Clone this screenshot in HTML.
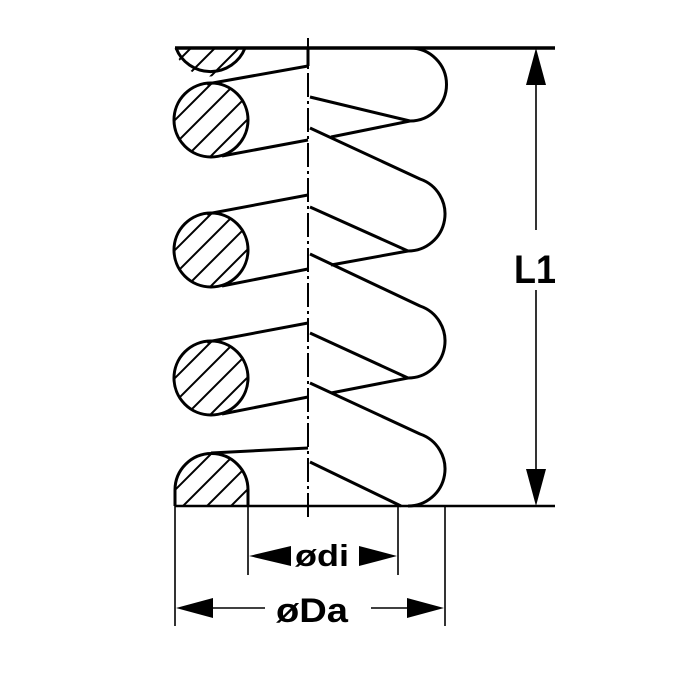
<!DOCTYPE html>
<html><head><meta charset="utf-8"><style>
html,body{margin:0;padding:0;background:#fff}
svg{display:block}
text{font-family:"Liberation Sans",Arial,sans-serif;fill:#000}
</style></head><body>
<svg width="700" height="700" viewBox="0 0 700 700" xmlns="http://www.w3.org/2000/svg">
<defs>
<clipPath id="c0"><path d="M174,48 L246,48 A37,37 0 0 1 174,48 Z"/></clipPath>
<clipPath id="c1"><circle cx="211" cy="120" r="37"/></clipPath>
<clipPath id="c2"><circle cx="211" cy="250" r="37"/></clipPath>
<clipPath id="c3"><circle cx="211" cy="378" r="37"/></clipPath>
<clipPath id="c4"><path d="M175,506 L175,490 A36.5,36.5 0 0 1 248,490 L248,506 Z"/></clipPath>
<g id="hatch" stroke="#000" stroke-width="2">
<line x1="-60" y1="60" x2="60" y2="-60" transform="translate(-30,0)"/>
<line x1="-60" y1="60" x2="60" y2="-60" transform="translate(-6,0)"/>
<line x1="-60" y1="60" x2="60" y2="-60" transform="translate(18,0)"/>
<line x1="-60" y1="60" x2="60" y2="-60" transform="translate(42,0)"/>
<line x1="-60" y1="60" x2="60" y2="-60" transform="translate(-54,0)"/>
</g>
</defs>

<g clip-path="url(#c0)"><use href="#hatch" x="205" y="40"/></g>
<g clip-path="url(#c1)"><use href="#hatch" x="205" y="120"/></g>
<g clip-path="url(#c2)"><use href="#hatch" x="205" y="250"/></g>
<g clip-path="url(#c3)"><use href="#hatch" x="205" y="378"/></g>
<g clip-path="url(#c4)"><use href="#hatch" x="205" y="490"/></g>

<g fill="none" stroke="#000" stroke-width="3" stroke-linejoin="round">
<line x1="175" y1="48" x2="555" y2="48" stroke-width="3.5"/>
<line x1="175" y1="506" x2="555" y2="506" stroke-width="2.5"/>
<path d="M176,48 A37,37 0 0 0 245,48"/>
<circle cx="211" cy="120" r="37"/>
<circle cx="211" cy="250" r="37"/>
<circle cx="211" cy="378" r="37"/>
<path d="M175,506 L175,490 A36.5,36.5 0 0 1 248,490 L248,506"/>
<line x1="207" y1="84" x2="308" y2="66"/>
<line x1="222" y1="156" x2="308" y2="140"/>
<line x1="207" y1="214" x2="308" y2="195"/>
<line x1="222" y1="286" x2="308" y2="269"/>
<line x1="207" y1="342" x2="308" y2="323"/>
<line x1="222" y1="414" x2="308" y2="397"/>
<line x1="211" y1="453" x2="308" y2="448"/>
<line x1="308" y1="48" x2="308" y2="66"/>
<path d="M410,48 A36.5,36.5 0 0 1 410,121"/>
<line x1="310" y1="97" x2="410" y2="121"/>
<line x1="410" y1="121" x2="331" y2="137"/>
<path d="M310,128 L420,179 A37,37 0 0 1 408,251"/>
<line x1="310" y1="207" x2="408" y2="251"/>
<line x1="408" y1="251" x2="331" y2="265"/>
<path d="M310,254 L420,306 A37,37 0 0 1 408,378"/>
<line x1="310" y1="333" x2="408" y2="378"/>
<line x1="408" y1="378" x2="331" y2="393"/>
<path d="M310,383 L420,434 A37,37 0 0 1 408,506"/>
<line x1="310" y1="462" x2="401" y2="506"/>
</g>
<line x1="308" y1="38" x2="308" y2="518" stroke="#000" stroke-width="2" stroke-dasharray="24 4 3 4"/>

<g stroke="#000" stroke-width="1.6">
<line x1="536" y1="60" x2="536" y2="230"/>
<line x1="536" y1="290" x2="536" y2="495"/>
<line x1="248" y1="506" x2="248" y2="575"/>
<line x1="398" y1="506" x2="398" y2="575"/>
<line x1="175" y1="506" x2="175" y2="626"/>
<line x1="445" y1="506" x2="445" y2="626"/>
<line x1="210" y1="608" x2="265" y2="608"/>
<line x1="371" y1="608" x2="410" y2="608"/>
</g>
<g fill="#000">
<polygon points="536,48 526,85 546,85"/>
<polygon points="536,506 526,469 546,469"/>
<polygon points="249,556 291,546 291,566"/>
<polygon points="397,556 359,546 359,566"/>
<polygon points="176,608 213,598 213,618"/>
<polygon points="444,608 407,598 407,618"/>
</g>
<text x="514" y="283" font-size="40" font-weight="bold" textLength="42" lengthAdjust="spacingAndGlyphs">L1</text>
<text x="295" y="566" font-size="31" font-weight="bold" textLength="54" lengthAdjust="spacingAndGlyphs">ødi</text>
<text x="276" y="622" font-size="34" font-weight="bold" textLength="72" lengthAdjust="spacingAndGlyphs">øDa</text>
</svg>
</body></html>
